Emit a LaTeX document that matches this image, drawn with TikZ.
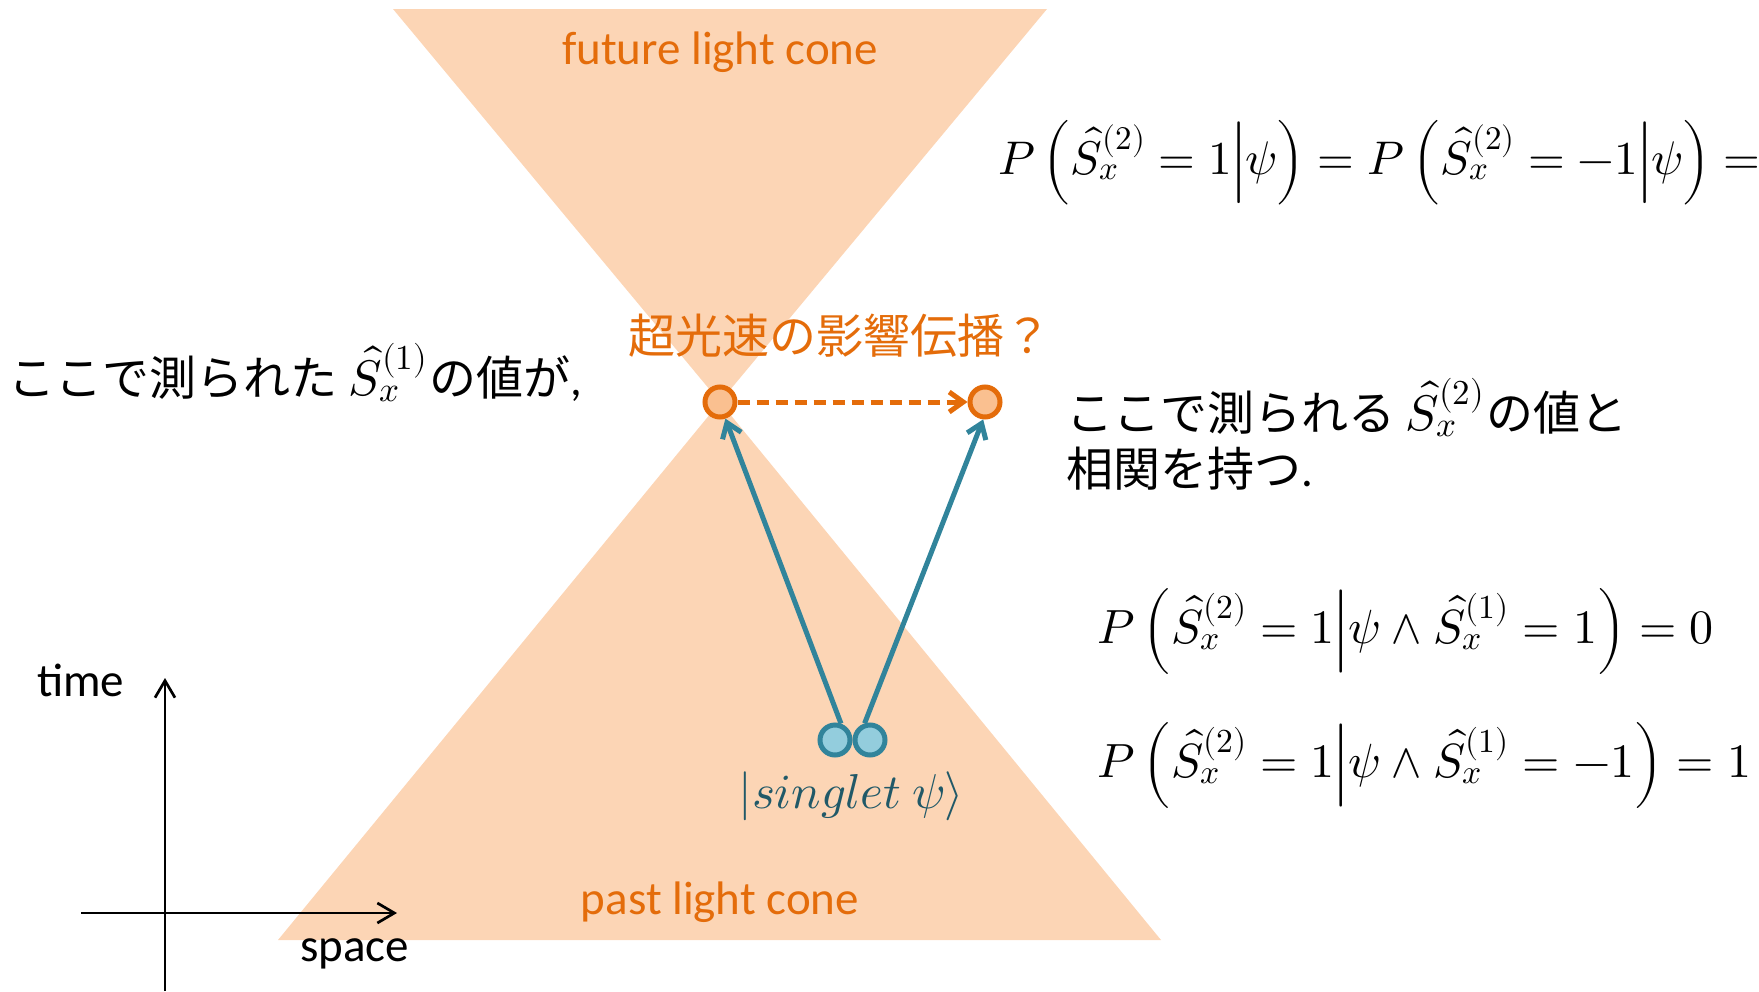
\documentclass[tikz,border=0pt]{standalone}
\usepackage{fontspec}
\usepackage{unicode-math}
\setmainfont{Carlito}
\setmathfont{Latin Modern Math}
\newfontfamily\jp{Noto Sans CJK JP}
\usetikzlibrary{arrows.meta}
\definecolor{conefill}{HTML}{FCD5B5}
\definecolor{orangeline}{HTML}{E46C0A}
\definecolor{orangefill}{HTML}{FAC090}
\definecolor{tealline}{HTML}{31849B}
\definecolor{tealfill}{HTML}{93CDDD}
\definecolor{tealtext}{HTML}{215968}
\begin{document}
\begin{tikzpicture}[x=1pt,y=-1pt,
  lbl/.style={font=\fontsize{47}{56}\selectfont, inner sep=0pt, outer sep=0pt},
  mth/.style={font=\fontsize{48}{58}\selectfont, inner sep=0pt, outer sep=0pt},
  conearea/.style={fill=conefill, draw=none},
  odot/.style={circle, minimum size=30pt, inner sep=0pt, draw=orangeline, line width=5pt, fill=orangefill},
  tdot/.style={circle, minimum size=30pt, inner sep=0pt, draw=tealline, line width=5pt, fill=tealfill},
  tealarrow/.style={draw=tealline, line width=5pt, -{Straight Barb[length=14pt,width=20pt,line width=5pt]}},
  orangedash/.style={draw=orangeline, line width=5pt, dash pattern=on 12pt off 7pt, -{Straight Barb[length=14pt,width=20pt,line width=5pt]}},
  axis/.style={draw=black, line width=2.7pt, -{Straight Barb[length=17pt,width=20pt,line width=2.7pt]}}
]
\useasboundingbox (0,0) rectangle (1759,991);
% light cones
\fill[conearea] (393,9) -- (1047,9) -- (720,402) -- cycle;
\fill[conearea] (720,402) -- (1161,940) -- (278,940) -- cycle;
\node[lbl, text=orangeline, anchor=base] (future) at (720,64) {future light cone};
\node[lbl, text=orangeline, anchor=base] (past) at (720,914) {past light cone};
% axes
\coordinate (ybot) at (165,991);
\coordinate (ytop) at (165,678);
\coordinate (xleft) at (81,913);
\coordinate (xright) at (397,913);
\draw[axis] (ybot) -- (ytop);
\draw[axis] (xleft) -- (xright);
\node[lbl, anchor=base west] (time) at (37,696) {time};
\node[lbl, anchor=base west] (space) at (300,961) {space};
% events
\node[odot] (o1) at (720,402) {};
\node[odot] (o2) at (985,402) {};
\node[tdot] (t1) at (835,740) {};
\node[tdot] (t2) at (870,740) {};
\draw[tealarrow] (t1.70) -- (o1.288);
\draw[tealarrow] (t2.108) -- (o2.264);
\draw[orangedash] (o1.east) -- (o2.west);
\node[lbl, text=tealtext, anchor=base, font=\fontsize{49}{58}\selectfont] (singlet) at (851,808) {$\lvert singlet\ \psi\rangle$};
\node[lbl, text=orangeline, anchor=base] (ftl) at (840,353) {\jp 超光速の影響伝播？};
% texts
\node[lbl, anchor=base west] (left) at (9,395) {{\jp ここで測られた} {\fontsize{50}{58}\selectfont$\hat{S}_x^{(1)}$}\kern2pt{\jp の値が},};
\node[lbl, anchor=base west] (right1) at (1066,430) {{\jp ここで測られる} {\fontsize{50}{58}\selectfont$\hat{S}_x^{(2)}$}\kern2pt{\jp の値と}};
\node[lbl, anchor=base west] (right2) at (1066,486) {{\jp 相関を持つ}.};
% equations
\node[mth, anchor=base west, font=\fontsize{47.2}{57}\selectfont] (eq1) at (998,174) {$P\left(\hat{S}_x^{(2)}=1\middle|\psi\right)=P\left(\hat{S}_x^{(2)}=-1\middle|\psi\right)=$};
\node[mth, anchor=base west] (eq2) at (1097,643) {$P\left(\hat{S}_x^{(2)}=1\middle|\psi\wedge\hat{S}_x^{(1)}=1\right)=0$};
\node[mth, anchor=base west] (eq3) at (1097,777) {$P\left(\hat{S}_x^{(2)}=1\middle|\psi\wedge\hat{S}_x^{(1)}=-1\right)=1$};
\end{tikzpicture}
\end{document}
